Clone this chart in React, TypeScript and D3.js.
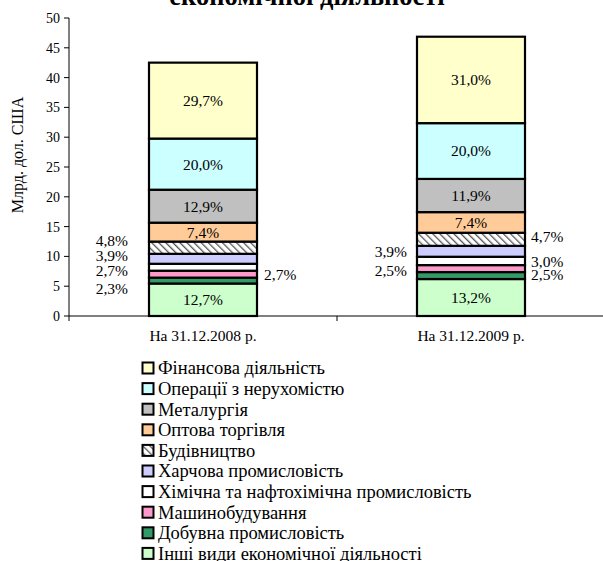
import React from "react";
import * as d3 from "d3";

const title = "економічної діяльності";
const yAxisTitle = "Млрд. дол. США";
const categories = ["На 31.12.2008 р.", "На 31.12.2009 р."];
const yTicks = [0, 5, 10, 15, 20, 25, 30, 35, 40, 45, 50];

// series in stacking order (bottom -> top)
const seriesNames = [
  "Інші види економічної діяльності",
  "Добувна промисловість",
  "Машинобудування",
  "Хімічна та нафтохімічна промисловість",
  "Харчова промисловість",
  "Будівництво",
  "Оптова торгівля",
  "Металургія",
  "Операції з нерухомістю",
  "Фінансова діяльність",
];
// values, bn USD
const values2008 = [5.45, 0.99, 1.16, 1.16, 1.67, 2.06, 3.17, 5.53, 8.58, 12.74];
const values2009 = [6.2, 1.17, 1.17, 1.4, 1.83, 2.2, 3.46, 5.57, 9.36, 14.5];
const labels2008 = ["12,7%", "2,3%", "2,7%", "2,7%", "3,9%", "4,8%", "7,4%", "12,9%", "20,0%", "29,7%"];
const labels2009 = ["13,2%", "2,5%", "2,5%", "3,0%", "3,9%", "4,7%", "7,4%", "11,9%", "20,0%", "31,0%"];

const seriesColors = [
  "#CCFFCC",
  "#339966",
  "#FF99CC",
  "#FFFFFF",
  "#CCCCFF",
  "url(#hatch)",
  "#FFCC99",
  "#C0C0C0",
  "#CCFFFF",
  "#FFFFCC",
];

// label placement: side (in / left / right) and vertical nudge (px), per bar, per series
const labelPlacement = [
  [
    ["in", 0], ["left", 8], ["right", 0], ["left", 3], ["left", -3],
    ["left", -7], ["in", 0], ["in", 0], ["in", 0], ["in", 0],
  ],
  [
    ["in", 0], ["right", -1], ["left", 2], ["right", 1], ["left", 0],
    ["right", -3], ["in", 0], ["in", 0], ["in", 0], ["in", 0],
  ],
];
const leftGap = [21, 10];
const rightGap = [7, 6];

const W = 603;
const H = 561;
const FONT = "'Liberation Serif', 'Times New Roman', Times, 'DejaVu Serif', serif";

export default function App() {
  const margin = { left: 69, top: 18, right: -2 };
  const plotBottom = 316;
  const x = d3
    .scaleBand<string>()
    .domain(categories)
    .range([margin.left, W - margin.right])
    .paddingInner(0)
    .paddingOuter(0);
  const y = d3.scaleLinear().domain([0, 50]).range([plotBottom, margin.top]);
  const barW = 108;

  const data = [values2008, values2009];
  const labels = [labels2008, labels2009];

  const stacks = data.map((vals) => {
    let acc = 0;
    return vals.map((v) => {
      const s = { y0: acc, y1: acc + v };
      acc += v;
      return s;
    });
  });

  const legendOrder = seriesNames.map((_, i) => seriesNames.length - 1 - i);

  return (
    <svg
      width={W}
      height={H}
      style={{ position: "absolute", left: 0, top: 0, background: "#fff", fontFamily: FONT }}
    >
      <defs>
        <pattern id="hatch" patternUnits="userSpaceOnUse" width="5" height="5" patternTransform="rotate(-45)">
          <rect width="5" height="5" fill="#fff" />
          <line x1="0" y1="0" x2="0" y2="5" stroke="#555" strokeWidth="2.6" />
        </pattern>
      </defs>

      <text x={307} y={5} textAnchor="middle" fontWeight="bold" fontSize={26.5}>
        {title}
      </text>

      {/* y axis */}
      <line x1={margin.left} x2={margin.left} y1={y(50)} y2={y(0)} stroke="#000" />
      {yTicks.map((t) => (
        <g key={t}>
          <line x1={margin.left - 5} x2={margin.left} y1={y(t)} y2={y(t)} stroke="#000" />
          <text x={margin.left - 9} y={y(t)} dy="0.35em" textAnchor="end" fontSize={14}>
            {t}
          </text>
        </g>
      ))}
      <text
        transform={`translate(17,${(y(0) + y(50)) / 2 - 12}) rotate(-90)`}
        textAnchor="middle"
        dy="0.35em"
        fontSize={16}
      >
        {yAxisTitle}
      </text>

      {/* bars */}
      {categories.map((c, bi) => {
        const cx = (x(c) as number) + x.bandwidth() / 2;
        const x0 = cx - barW / 2;
        return (
          <g key={c}>
            {stacks[bi].map((s, si) => (
              <rect
                key={si}
                x={x0}
                y={y(s.y1)}
                width={barW}
                height={y(s.y0) - y(s.y1)}
                fill={seriesColors[si]}
                stroke="#000"
                strokeWidth={2.2}
              />
            ))}
            {stacks[bi].map((s, si) => {
              const [side, nudge] = labelPlacement[bi][si] as [string, number];
              const my = (y(s.y0) + y(s.y1)) / 2 + nudge;
              const lx = side === "in" ? cx : side === "left" ? x0 - leftGap[bi] : x0 + barW + rightGap[bi];
              const anchor = side === "in" ? "middle" : side === "left" ? "end" : "start";
              return (
                <text key={"l" + si} x={lx} y={my} dy="0.35em" textAnchor={anchor} fontSize={15.5}>
                  {labels[bi][si]}
                </text>
              );
            })}
          </g>
        );
      })}

      {/* x axis */}
      <line x1={margin.left} x2={W} y1={plotBottom} y2={plotBottom} stroke="#000" />
      {[...categories.map((c) => x(c) as number), x.range()[1]].map((px, i) => (
        <line key={i} x1={px} x2={px} y1={plotBottom} y2={plotBottom + 5} stroke="#000" />
      ))}
      {categories.map((c) => (
        <text
          key={c}
          x={(x(c) as number) + x.bandwidth() / 2}
          y={336}
          dy="0.35em"
          textAnchor="middle"
          fontSize={15.5}
        >
          {c}
        </text>
      ))}

      {/* legend */}
      {legendOrder.map((si, i) => {
        const cy = 368 + i * 20.6;
        return (
          <g key={si}>
            <rect x={142.5} y={cy - 5.5} width={11} height={11} fill={seriesColors[si]} stroke="#000" strokeWidth={2} />
            <text x={158} y={cy} dy="0.35em" fontSize={18.5}>
              {seriesNames[si]}
            </text>
          </g>
        );
      })}
    </svg>
  );
}
